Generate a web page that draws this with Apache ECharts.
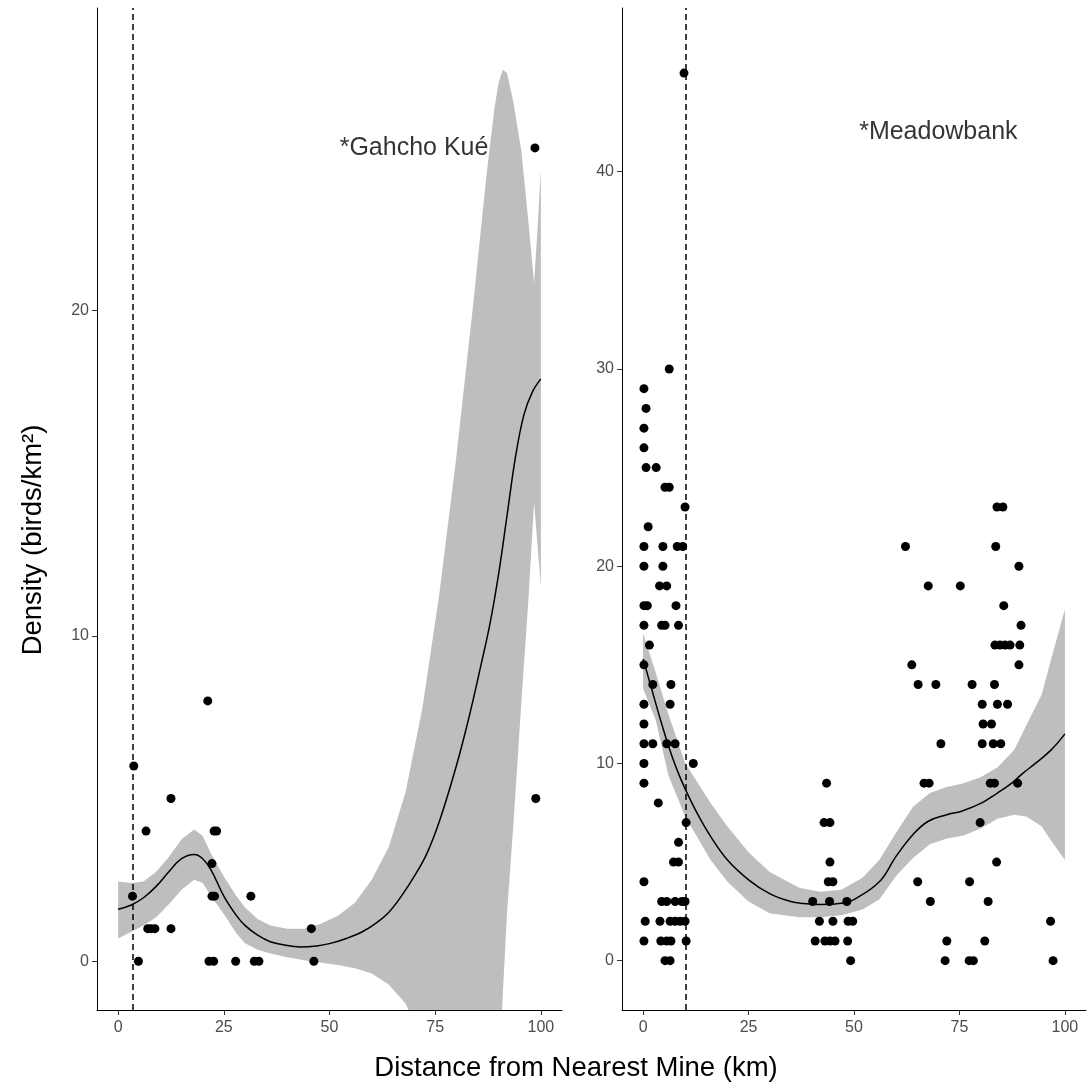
<!DOCTYPE html>
<html>
<head>
<meta charset="utf-8">
<script src="https://cdn.jsdelivr.net/npm/echarts@6/dist/echarts.min.js"></script>
<style>
  html, body { margin: 0; padding: 0; background: #fff; }
  #main { width: 1089px; height: 1086px; }
</style>
</head>
<body>
<div id="main"></div>
<script>
// tick labels
var xTicks = [0, 25, 50, 75, 100];
var gkYTicks = [0, 10, 20];
var mbYTicks = [0, 10, 20, 30, 40];

// Gahcho Kué: observed densities [distance, density]
var gkPoints = [
  [21.2, 8], [3.7, 6], [12.5, 5], [6.6, 4], [22.7, 4], [23.3, 4], [22.2, 3],
  [3.4, 2], [22.2, 2], [22.8, 2], [31.4, 2],
  [7.0, 1], [7.8, 1], [8.7, 1], [12.5, 1], [45.7, 1],
  [4.8, 0], [21.5, 0], [22.6, 0], [27.8, 0], [32.2, 0], [33.3, 0], [46.3, 0],
  [98.6, 25], [98.8, 5]
];
// Gahcho Kué: smoother and its confidence band
var gkFitX = [0, 3, 6, 9, 12, 15, 18, 20, 22, 25, 28, 30, 33, 36, 40, 43, 47, 50, 54, 58,
  61, 64, 67, 70, 73, 76, 80, 83, 86, 88, 90, 92, 94, 96, 98, 100];
var gkFitY = [1.6, 1.72, 1.95, 2.3, 2.75, 3.15, 3.28, 3.15, 2.8, 2.0, 1.4, 1.1, 0.8, 0.6, 0.48, 0.44, 0.47, 0.54, 0.7, 0.92,
  1.17, 1.5, 2.0, 2.6, 3.3, 4.3, 6.0, 7.5, 9.2, 10.4, 11.9, 13.7, 15.5, 16.8, 17.5, 17.9];
var gkBandX = [0, 3, 6, 9, 12, 15, 18, 20, 22, 25, 28, 30, 33, 36, 40, 44, 48, 52, 56, 60,
  64, 68, 72, 76, 80, 84, 87, 89, 90, 91, 92, 93.5, 95.4, 97, 98.4, 99.2, 100];
var gkUpper = [2.45, 2.4, 2.45, 2.75, 3.2, 3.75, 4.05, 3.85, 3.3, 2.6, 2.0, 1.65, 1.3, 1.1, 1.0, 1.0, 1.15, 1.4, 1.8, 2.5,
  3.5, 5.2, 7.8, 11.3, 15.5, 20.2, 24.0, 26.2, 27.0, 27.4, 27.3, 26.4, 24.9, 22.8, 20.85, 22.5, 24.3];
var gkLower = [0.7, 0.9, 1.1, 1.35, 1.75, 2.2, 2.5, 2.4, 2.0, 1.45, 0.85, 0.55, 0.35, 0.24, 0.12, 0.03, -0.05, -0.12, -0.22, -0.38,
  -0.72, -1.3, -2.4, -4.5, -7, -9, -9, -6, -3.5, -1, 1.5, 4.2, 8, 11, 14.1, 12.8, 11.5];

// Meadowbank: observed densities [distance, density]
var mbPoints = [
  [9.7, 45], [6.2, 30], [0.2, 29], [0.7, 28], [0.2, 27], [0.2, 26], [0.7, 25], [3.1, 25],
  [5.2, 24], [6.2, 24], [9.95, 23], [83.9, 23], [85.3, 23], [1.2, 22],
  [0.2, 21], [4.7, 21], [8.1, 21], [9.4, 21], [62.2, 21], [83.6, 21],
  [0.2, 20], [4.7, 20], [89.1, 20],
  [3.9, 19], [5.6, 19], [67.6, 19], [75.2, 19],
  [0.2, 18], [1.0, 18], [7.8, 18], [85.5, 18],
  [0.2, 17], [4.4, 17], [5.2, 17], [8.4, 17], [89.6, 17],
  [1.5, 16], [83.4, 16], [84.6, 16], [85.8, 16], [87.0, 16], [89.3, 16],
  [0.2, 15], [63.7, 15], [89.1, 15],
  [2.3, 14], [6.6, 14], [65.2, 14], [69.4, 14], [78.0, 14], [83.3, 14],
  [0.2, 13], [6.4, 13], [80.4, 13], [84.0, 13], [86.4, 13],
  [0.2, 12], [80.6, 12], [82.6, 12],
  [0.2, 11], [2.3, 11], [5.6, 11], [7.6, 11], [70.6, 11], [80.4, 11], [83.0, 11], [84.8, 11],
  [0.2, 10], [11.9, 10],
  [0.2, 9], [43.5, 9], [66.6, 9], [67.8, 9], [82.3, 9], [83.3, 9], [88.8, 9],
  [3.6, 8], [10.2, 7], [42.9, 7], [44.3, 7], [79.9, 7], [8.4, 6],
  [7.2, 5], [8.4, 5], [44.3, 5], [83.8, 5],
  [0.2, 4], [43.9, 4], [45.0, 4], [65.1, 4], [77.4, 4],
  [4.4, 3], [5.6, 3], [7.6, 3], [9.2, 3], [9.95, 3], [40.2, 3], [44.2, 3], [48.3, 3], [68.1, 3], [81.8, 3],
  [0.5, 2], [4.0, 2], [6.4, 2], [7.6, 2], [8.8, 2], [9.95, 2], [41.8, 2], [45.0, 2], [48.6, 2], [49.7, 2], [96.6, 2],
  [0.2, 1], [4.2, 1], [5.6, 1], [6.6, 1], [10.2, 1], [40.8, 1], [43.1, 1], [44.3, 1], [45.5, 1], [48.5, 1], [72.0, 1], [81.0, 1],
  [5.2, 0], [6.4, 0], [49.2, 0], [71.6, 0], [77.3, 0], [78.3, 0], [97.2, 0]
];
// Meadowbank: smoother and its confidence band
var mbFitX = [0, 2, 4, 6, 8, 10, 13, 16, 20, 25, 30, 35, 38, 42, 47.5, 50, 56, 60, 64, 67.6,
  72, 75.5, 80.3, 84, 87.4, 90, 93, 96.8, 100];
var mbFitY = [15.3, 13.8, 12.3, 10.9, 9.7, 8.7, 7.4, 6.3, 5.1, 4.1, 3.4, 3.0, 2.9, 2.85, 2.93, 3.1, 4.0, 5.3, 6.4, 7.07,
  7.4, 7.58, 8.0, 8.5, 9.0, 9.5, 10.0, 10.7, 11.5];
var mbBandX = [0, 3, 6, 10, 16, 20, 25, 30, 37, 42, 47, 52, 56, 60, 64, 68, 72, 76, 80, 84,
  88, 91, 94.5, 97, 100];
var mbUpper = [16.6, 14.6, 12.5, 10.0, 8.0, 6.8, 5.5, 4.5, 3.7, 3.5, 3.6, 4.2, 5.1, 6.5, 7.8, 8.5, 8.8, 9.0, 9.3, 9.8,
  10.7, 12.0, 13.5, 15.5, 17.8];
var mbLower = [13.8, 12.2, 9.4, 7.3, 5.1, 4.0, 3.0, 2.4, 2.2, 2.2, 2.3, 2.6, 3.1, 4.3, 5.2, 5.9, 6.2, 6.35, 6.7, 7.2,
  7.4, 7.3, 6.8, 6.0, 5.1];

// mine buffer lines and panel labels
var gkMineLine = 3.5;
var mbMineLine = 10;
var gkLabel = { text: '*Gahcho Kué', x: 70, y: 25 };
var mbLabel = { text: '*Meadowbank', x: 70, y: 42 };

var FONT = '"Liberation Sans", Arial, sans-serif';

function zip(xs, ys) {
  return xs.map(function (x, i) { return [x, ys[i]]; });
}

function axisX(gridIndex) {
  return {
    type: 'value', gridIndex: gridIndex, min: -5, max: 105,
    axisLine: { onZero: false, lineStyle: { color: '#000', width: 1 } },
    axisTick: { customValues: xTicks, length: 5, lineStyle: { color: '#333' } },
    axisLabel: { customValues: xTicks, color: '#4d4d4d', fontSize: 16, fontFamily: FONT, margin: 10 },
    splitLine: { show: false }
  };
}

function axisY(gridIndex, min, max, ticks) {
  return {
    type: 'value', gridIndex: gridIndex, min: min, max: max,
    axisLine: { onZero: false, lineStyle: { color: '#000', width: 1 } },
    axisTick: { customValues: ticks, length: 5, lineStyle: { color: '#333' } },
    axisLabel: { customValues: ticks, color: '#4d4d4d', fontSize: 16, fontFamily: FONT, margin: 8 },
    splitLine: { show: false }
  };
}

// confidence ribbon as one polygon, upper edge then lower edge backwards
function bandSeries(idx, bx, up, lo) {
  return {
    type: 'custom', xAxisIndex: idx, yAxisIndex: idx, clip: true, silent: true, z: 1,
    data: [0],
    renderItem: function (params, api) {
      var pts = [];
      for (var i = 0; i < bx.length; i++) pts.push(api.coord([bx[i], up[i]]));
      for (var j = bx.length - 1; j >= 0; j--) pts.push(api.coord([bx[j], lo[j]]));
      return { type: 'polygon', shape: { points: pts }, style: { fill: '#bebebe' } };
    }
  };
}

function fitSeries(idx, fx, fy) {
  return {
    type: 'line', xAxisIndex: idx, yAxisIndex: idx, data: zip(fx, fy),
    smooth: 0.4, showSymbol: false, silent: true, z: 2,
    lineStyle: { color: '#000', width: 1.5 }
  };
}

function pointSeries(idx, pts, mine) {
  return {
    type: 'scatter', xAxisIndex: idx, yAxisIndex: idx, data: pts,
    symbolSize: 9, itemStyle: { color: '#000', opacity: 1 }, z: 3,
    markLine: {
      silent: true, symbol: 'none', label: { show: false },
      lineStyle: { color: '#000', width: 1.5, type: [6, 4] },
      data: [{ xAxis: mine }]
    }
  };
}

function labelSeries(idx, lab) {
  return {
    type: 'scatter', xAxisIndex: idx, yAxisIndex: idx, data: [[lab.x, lab.y]],
    symbolSize: 0, silent: true, z: 4,
    label: {
      show: true, position: 'inside', formatter: lab.text,
      color: '#000', fontSize: 25, fontFamily: FONT, textBorderWidth: 0
    }
  };
}

var chart = echarts.init(document.getElementById('main'));
var option = {
  animation: false,
  backgroundColor: '#fff',
  grid: [
    { left: 97, top: 8, width: 465, height: 1002 },
    { left: 622, top: 8, width: 464, height: 1002 }
  ],
  xAxis: [axisX(0), axisX(1)],
  yAxis: [axisY(0, -1.5, 29.3, gkYTicks), axisY(1, -2.5, 48.3, mbYTicks)],
  graphic: [
    {
      type: 'text', x: 576, y: 1068,
      style: {
        text: 'Distance from Nearest Mine (km)', fontSize: 27.5, fontFamily: FONT, fill: '#000',
        align: 'center', verticalAlign: 'middle'
      }
    },
    {
      type: 'text', x: 33, y: 540, rotation: Math.PI / 2,
      style: {
        text: 'Density (birds/km²)', fontSize: 27.5, fontFamily: FONT, fill: '#000',
        align: 'center', verticalAlign: 'middle'
      }
    }
  ],
  series: [
    bandSeries(0, gkBandX, gkUpper, gkLower),
    fitSeries(0, gkFitX, gkFitY),
    pointSeries(0, gkPoints, gkMineLine),
    labelSeries(0, gkLabel),
    bandSeries(1, mbBandX, mbUpper, mbLower),
    fitSeries(1, mbFitX, mbFitY),
    pointSeries(1, mbPoints, mbMineLine),
    labelSeries(1, mbLabel)
  ]
};
chart.setOption(option);
</script>
</body>
</html>
